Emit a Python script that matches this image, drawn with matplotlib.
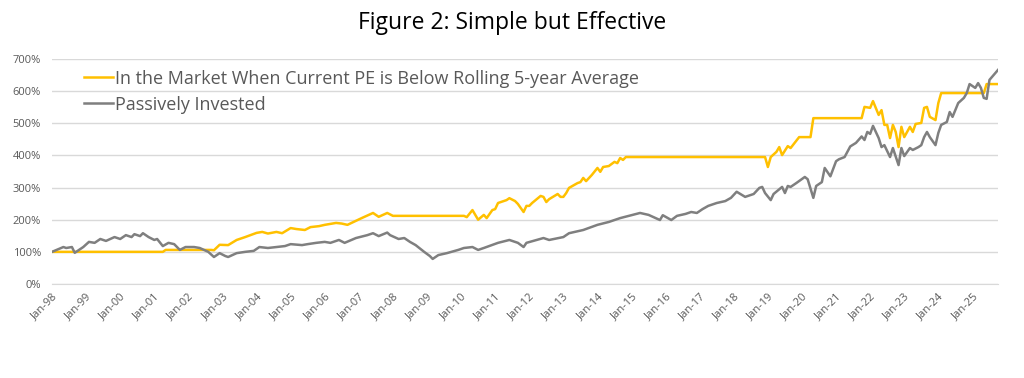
import matplotlib
matplotlib.use("Agg")
import matplotlib.pyplot as plt
from matplotlib.ticker import FuncFormatter

plt.rcParams['font.family'] = ['Open Sans', 'DejaVu Sans']

# months counted from Jan-98 (0 = Jan-98), values in % of starting value
pe_months = [0, 39, 40, 56, 57, 59, 62, 65, 68, 72, 74, 76, 79, 81, 84, 86, 89, 91, 94, 96,
             100, 102, 104, 109, 113, 115, 118, 120, 145, 146, 148, 150, 152, 153, 155, 156,
             157, 160, 161, 163, 164, 166, 167, 168, 169, 172, 173, 174, 175, 178, 179, 180,
             181, 182, 185, 186, 187, 188, 190, 192, 193, 194, 196, 198, 199, 200, 201, 202,
             251, 252, 253, 255, 256, 257, 259, 260, 263, 267, 268, 285, 286, 288, 289, 291,
             292, 293, 294, 295, 296, 297, 298, 299, 300, 302, 303, 304, 306, 307, 308, 309,
             311, 312, 313, 328, 329, 333]
pe_values = [100, 100, 106, 106, 105, 122, 121, 137, 146, 159, 162, 157, 162, 158, 174, 171, 168, 177, 180, 184,
             190, 188, 184, 205, 221, 209, 221, 212, 212, 208, 230, 200, 215, 205, 230, 233,
             252, 261, 267, 258, 249, 224, 243, 243, 252, 274, 271, 255, 264, 280, 271, 271,
             283, 299, 314, 317, 330, 320, 339, 361, 349, 364, 367, 380, 376, 392, 386, 395,
             395, 364, 395, 411, 426, 401, 429, 423, 457, 457, 516, 516, 551, 548, 569, 526,
             541, 495, 495, 454, 495, 473, 426, 489, 457, 489, 473, 498, 501, 548, 551, 520,
             510, 563, 594, 594, 622, 622]

passive_months = [0, 4, 5, 7, 8, 11, 13, 15, 17, 19, 22, 24, 26, 28, 29, 31, 32, 34, 36, 37,
                  39, 41, 43, 45, 47, 50, 52, 55, 57, 59, 61, 62, 65, 68, 71, 73, 76, 79, 82, 84,
                  88, 90, 93, 96, 98, 101, 103, 107, 111, 113, 115, 118, 119, 122, 124, 126, 128,
                  131, 133, 134, 136, 139, 143, 145, 148, 150, 152, 157, 161, 164, 166, 167, 173,
                  175, 180, 182, 187, 192, 196, 200, 203, 207, 210, 214, 215, 218, 220, 223, 225,
                  227, 229, 231, 234, 237, 239, 241, 244, 247, 249, 250, 251, 253, 254, 257, 258,
                  259, 260, 262, 265, 266, 268, 269, 271, 272, 274, 276, 277, 279, 281, 283, 285,
                  286, 287, 288, 289, 291, 292, 293, 295, 296, 298, 299, 300, 302, 303, 305, 306,
                  307, 308, 309, 311, 312, 313, 315, 316, 317, 319, 321, 322, 323, 325, 326, 327,
                  328, 329, 330, 333]
passive_values = [100, 115, 112, 115, 97, 115, 131, 128, 140, 134, 146, 140, 152, 146, 155, 149, 158, 146, 137, 140,
                  118, 128, 124, 106, 115, 115, 112, 100, 84, 96, 87, 84, 96, 100, 103, 115, 112, 115, 118, 124,
                  121, 124, 128, 131, 128, 137, 128, 143, 152, 158, 149, 160, 152, 140, 143, 131, 121,
                  100, 87, 78, 90, 96, 106, 112, 115, 106, 112, 128, 137, 128, 115, 128, 143,
                  137, 146, 158, 168, 184, 193, 205, 212, 221, 215, 199, 214, 199, 212, 218, 224,
                  221, 233, 243, 252, 258, 268, 287, 271, 280, 299, 302, 283, 261, 280, 302, 283,
                  305, 302, 314, 333, 326, 268, 305, 317, 361, 335, 382, 388, 395, 428, 439, 459,
                  448, 473, 467, 492, 454, 426, 432, 395, 423, 370, 423, 398, 423, 417, 426, 432,
                  457, 473, 457, 432, 470, 495, 504, 535, 520, 563, 579, 594, 622, 610, 625, 610,
                  579, 576, 635, 666]

years = list(range(98, 100)) + list(range(0, 26))
tick_labels = ['Jan-%02d' % y for y in years]
tick_pos = [12 * i for i in range(len(tick_labels))]

label_col = '#595959'

fig = plt.figure(figsize=(10.24, 3.78), dpi=100)
ax = fig.add_axes([0.0508, 0.2487, 0.9238, 0.5952])

ax.plot(pe_months, pe_values, color='#FFC000', lw=1.8,
        label='In the Market When Current PE is Below Rolling 5-year Average')
ax.plot(passive_months, passive_values, color='#7F7F7F', lw=1.8,
        label='Passively Invested')

ax.set_xlim(0, 333)
ax.set_ylim(0, 700)
ax.set_yticks(range(0, 701, 100))
ax.yaxis.set_major_formatter(FuncFormatter(lambda v, p: '%d%%' % v))
ax.set_xticks(tick_pos)
ax.set_xticklabels(tick_labels, rotation=45, ha='right', va='top',
                   rotation_mode='anchor')
ax.tick_params(axis='both', length=0, labelsize=8, colors=label_col)
ax.tick_params(axis='x', pad=5)
ax.tick_params(axis='y', pad=8)
ax.grid(axis='y', color='#D9D9D9', lw=1)
ax.set_axisbelow(True)
for s in ['top', 'right', 'left']:
    ax.spines[s].set_visible(False)
ax.spines['bottom'].set_color('#D9D9D9')

leg = ax.legend(loc='upper left', bbox_to_anchor=(0.026, 0.985), frameon=False,
                fontsize=13, handlelength=1.6, handletextpad=0.1,
                labelspacing=0.45, borderaxespad=0)
for t in leg.get_texts():
    t.set_color(label_col)

fig.text(0.5, 0.938, 'Figure 2: Simple but Effective', ha='center', va='center',
         fontsize=16.5, color='black')

fig.savefig('out.png', dpi=100)
